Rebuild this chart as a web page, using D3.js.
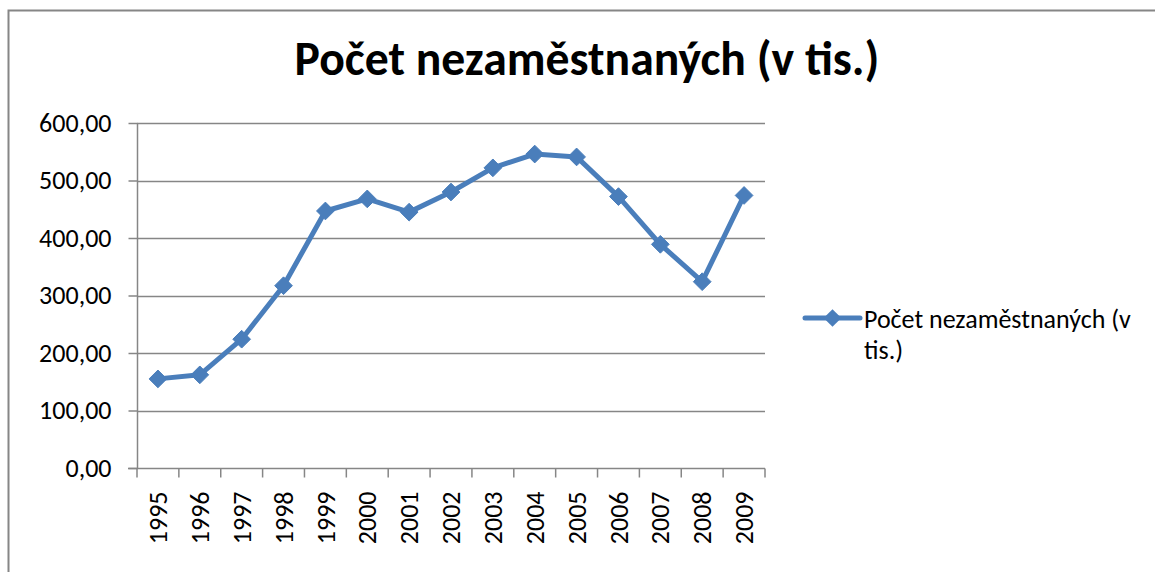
<!DOCTYPE html>
<html lang="cs">
<head>
<meta charset="utf-8">
<script src="https://cdnjs.cloudflare.com/ajax/libs/d3/7.8.5/d3.min.js"></script>
<style>
  html, body { margin: 0; padding: 0; background: #fff; }
  svg { display: block; }
</style>
</head>
<body>
<script>
// data (thousands of unemployed)
var years = ["1995","1996","1997","1998","1999","2000","2001","2002","2003","2004","2005","2006","2007","2008","2009"]
var values = [155, 162, 224, 317, 447, 468, 445, 480, 522, 546, 541, 472, 389, 324, 474]
var yTicks = [0, 100, 200, 300, 400, 500, 600]
var title = "Počet nezaměstnaných (v tis.)"
var legendLines = ["Počet nezaměstnaných (v", "tis.)"]

var width = 1155
var height = 572
var blue = "#4a7ebb"
var grey = "#868686"
var font = "Carlito, Calibri, Lato, sans-serif"
var labelSize = 26

var svg = d3.select("body").append("svg")
    .attr("width", width)
    .attr("height", height)
    .attr("font-family", font)

// chart border (cut off at right and bottom like the original)
svg.append("path")
    .attr("d", "M8.5," + (height + 2) + "V10.5H" + (width + 2))
    .attr("fill", "none")
    .attr("stroke", grey)
    .attr("stroke-width", 2)

var x = d3.scaleBand().domain(years).range([137, 765]).padding(0)
var y = d3.scaleLinear().domain([0, 600]).range([468, 123])

var fmt = d3.format(".2f")
var czNum = d => fmt(d).replace(".", ",")

// gridlines
svg.append("g")
    .selectAll("line")
    .data(yTicks.filter(d => d > 0))
    .join("line")
    .attr("x1", x.range()[0])
    .attr("x2", x.range()[1])
    .attr("y1", d => Math.round(y(d)) + 0.5)
    .attr("y2", d => Math.round(y(d)) + 0.5)
    .attr("stroke", grey)
    .attr("stroke-width", 1.5)

// y axis
var yAxis = svg.append("g")
    .attr("transform", "translate(137.5,0)")
    .call(d3.axisLeft(y).tickValues(yTicks).tickFormat(czNum).tickSize(9).tickPadding(17))
yAxis.selectAll("path, line").attr("stroke", grey).attr("stroke-width", 1.5)
yAxis.select(".domain").attr("d", "M0," + y(600) + "V" + y(0))
yAxis.selectAll("text")
    .attr("font-family", font)
    .attr("font-size", labelSize)
    .attr("fill", "#000")

// x axis with ticks on category boundaries
var xAxis = svg.append("g")
    .attr("transform", "translate(0," + (y(0) + 0.5) + ")")
xAxis.append("line")
    .attr("x1", x.range()[0] - 9).attr("x2", x.range()[1])
    .attr("stroke", grey).attr("stroke-width", 1.5)
xAxis.selectAll(".tk")
    .data(years.concat(["end"]))
    .join("line")
    .attr("class", "tk")
    .attr("x1", d => d === "end" ? x.range()[1] : x(d))
    .attr("x2", d => d === "end" ? x.range()[1] : x(d))
    .attr("y1", 0).attr("y2", 9)
    .attr("stroke", grey).attr("stroke-width", 1.5)
xAxis.selectAll("text")
    .data(years)
    .join("text")
    .attr("transform", d => "translate(" + (x(d) + x.bandwidth() / 2) + ",23) rotate(-90)")
    .attr("text-anchor", "end")
    .attr("dy", "0.35em")
    .attr("font-size", labelSize)
    .attr("fill", "#000")
    .text(d => d)

// series line
var line = d3.line()
    .x((d, i) => x(years[i]) + x.bandwidth() / 2)
    .y(d => y(d))

svg.append("path")
    .datum(values)
    .attr("d", line)
    .attr("fill", "none")
    .attr("stroke", blue)
    .attr("stroke-width", 5)
    .attr("stroke-linejoin", "round")
    .attr("stroke-linecap", "round")

var diamond = d3.symbol().type(d3.symbolDiamond2).size(200)

svg.append("g")
    .selectAll("path")
    .data(values)
    .join("path")
    .attr("transform", (d, i) => "translate(" + (x(years[i]) + x.bandwidth() / 2) + "," + y(d) + ")")
    .attr("d", diamond)
    .attr("fill", blue)
    .attr("stroke", blue)
    .attr("stroke-width", 1)

// title, sized to the original width
var t = svg.append("text")
    .attr("x", 587)
    .attr("y", 75)
    .attr("text-anchor", "middle")
    .attr("font-weight", "bold")
    .attr("font-size", 44)
    .attr("fill", "#000")
    .text(title)
var tw = t.node().getComputedTextLength()
if (tw > 0) t.attr("font-size", 44 * 585 / tw)

// legend
var lg = svg.append("g").attr("transform", "translate(805,318)")
lg.append("line")
    .attr("x1", 0).attr("x2", 55)
    .attr("stroke", blue).attr("stroke-width", 5)
    .attr("stroke-linecap", "round")
lg.append("path")
    .attr("transform", "translate(27.5,0)")
    .attr("d", diamond)
    .attr("fill", blue)
lg.selectAll("text")
    .data(legendLines)
    .join("text")
    .attr("x", 59)
    .attr("y", (d, i) => 10 + i * 31)
    .attr("font-size", labelSize)
    .attr("fill", "#000")
    .text(d => d)
</script>
</body>
</html>
